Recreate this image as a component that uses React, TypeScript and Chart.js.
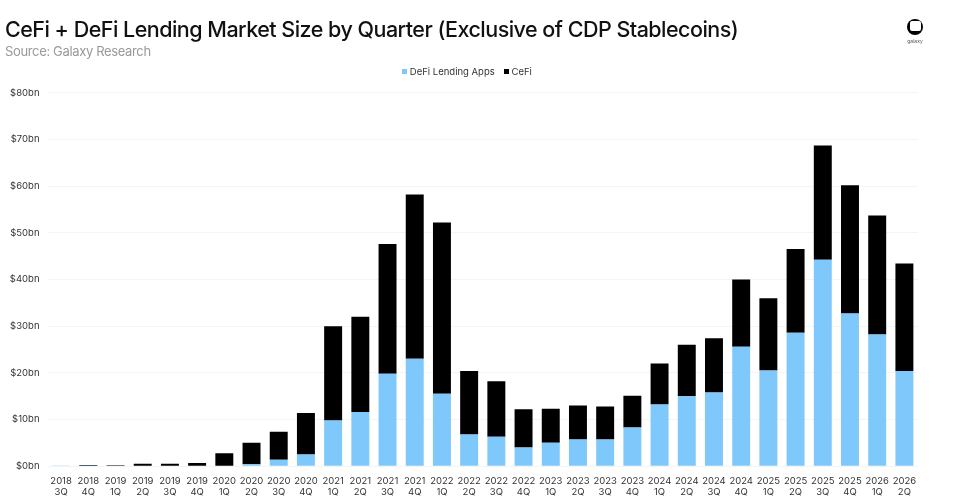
import React, { useEffect, useRef } from "react";
import { Chart, registerables } from "chart.js";

Chart.register(...registerables);

const years = ["2018","2018","2019","2019","2019","2019","2020","2020","2020","2020","2021","2021","2021","2021","2022","2022","2022","2022","2023","2023","2023","2023","2024","2024","2024","2024","2025","2025","2025","2025","2026","2026"];
const quarters = ["3Q","4Q","1Q","2Q","3Q","4Q","1Q","2Q","3Q","4Q","1Q","2Q","3Q","4Q","1Q","2Q","3Q","4Q","1Q","2Q","3Q","4Q","1Q","2Q","3Q","4Q","1Q","2Q","3Q","4Q","1Q","2Q"];
const defiLending = [0.02,0.05,0.08,0.12,0.1,0.1,0.1,0.4,1.4,2.5,9.8,11.6,19.8,23,15.5,6.8,6.3,4,5,5.7,5.7,8.3,13.2,15,15.8,25.6,20.5,28.6,44.2,32.7,28.2,20.4];
const cefi = [0.03,0.15,0.12,0.38,0.4,0.6,2.7,4.6,6,8.9,20.2,20.4,27.8,35.2,36.7,13.6,11.9,8.2,7.3,7.3,7.1,6.8,8.8,11,11.6,14.4,15.5,17.9,24.5,27.5,25.5,23];
const yTicks = [0,10,20,30,40,50,60,70,80];
const seriesColors = ["#7fc8fb", "#000000"];
const titleText = "CeFi + DeFi Lending Market Size by Quarter (Exclusive of CDP Stablecoins)";
const sourceText = "Source: Galaxy Research";

function swatch(color: string) {
  const c = document.createElement("canvas");
  c.width = 5;
  c.height = 5;
  const g = c.getContext("2d")!;
  g.fillStyle = color;
  g.fillRect(0, 0, 5, 5);
  return c;
}

export default function App() {
  const ref = useRef<HTMLCanvasElement>(null);
  useEffect(() => {
    document.body.style.margin = "0";
    document.body.style.background = "#fff";
    const chart = new Chart(ref.current!, {
      type: "bar",
      data: {
        labels: years.map((y, i) => [y, quarters[i]]),
        datasets: [
          { label: "DeFi Lending Apps", data: defiLending, backgroundColor: seriesColors[0], stack: "s", categoryPercentage: 0.66, barPercentage: 1 },
          { label: "CeFi", data: cefi, backgroundColor: seriesColors[1], stack: "s", categoryPercentage: 0.66, barPercentage: 1 },
        ],
      },
      options: {
        animation: false,
        responsive: false,
        layout: { padding: { top: 56, right: 18, bottom: 0, left: 0 } },
        plugins: {
          tooltip: { enabled: false },
          title: { display: true, text: "", font: { size: 1 }, padding: { top: 3, bottom: 2 } },
          legend: {
            position: "top",
            weight: 3000,
            labels: {
              usePointStyle: true,
              pointStyleWidth: 1,
              boxWidth: 6,
              boxHeight: 5,
              padding: 11,
              color: "#333",
              font: { family: "Inter", size: 9.5 },
              generateLabels: (c: any) =>
                Chart.defaults.plugins.legend.labels.generateLabels(c).map((item: any, i: number) => ({ ...item, pointStyle: swatch(seriesColors[i]) })),
            },
          },
        },
        scales: {
          x: {
            stacked: true,
            grid: { display: false },
            border: { display: false },
            ticks: { color: "#333", font: { family: "Inter", size: 9.5, lineHeight: 1.2 }, maxRotation: 0, autoSkip: false, padding: 1 },
          },
          y: {
            stacked: true,
            min: 0,
            max: 80,
            afterBuildTicks: (s: any) => { s.ticks = yTicks.map((value) => ({ value })); },
            afterFit: (s: any) => { s.width = 47.5; },
            grid: { color: "#f4f4f4", drawTicks: false },
            border: { display: false },
            ticks: { color: "#333", padding: 8, font: { family: "Inter", size: 9.5 }, callback: (v: any) => `$${v}bn` },
          },
          y2: {
            position: "right",
            display: true,
            afterFit: (s: any) => { s.width = 18; },
            grid: { display: false },
            border: { display: false },
            ticks: { display: false },
          },
        },
      },
    });
    return () => chart.destroy();
  }, []);
  return (
    <div style={{ position: "relative", width: 954, height: 499, overflow: "hidden", background: "#fff" }}>
      <canvas ref={ref} width={954} height={499} style={{ position: "absolute", left: 0, top: 0, width: 954, height: 499 }} />
      <div style={{ position: "absolute", left: 5, top: 15, fontFamily: "Inter", fontSize: 21.5, fontWeight: 500, color: "#111", letterSpacing: -0.52, whiteSpace: "nowrap", lineHeight: "28px" }}>{titleText}</div>
      <div style={{ position: "absolute", left: 5, top: 43, fontFamily: "Inter", fontSize: 13, color: "#999", letterSpacing: -0.35, whiteSpace: "nowrap", lineHeight: "17px" }}>{sourceText}</div>
      <div style={{ position: "absolute", left: 907, top: 19, width: 16, height: 16, borderRadius: "50%", background: "#000" }}>
        <div style={{ position: "absolute", left: 2.5, top: 2, width: 11, height: 10, borderRadius: 2, background: "#fff" }} />
      </div>
      <div style={{ position: "absolute", left: 900, top: 38, width: 30, textAlign: "center", fontFamily: "Inter", fontSize: 5, color: "#555" }}>galaxy</div>
    </div>
  );
}
